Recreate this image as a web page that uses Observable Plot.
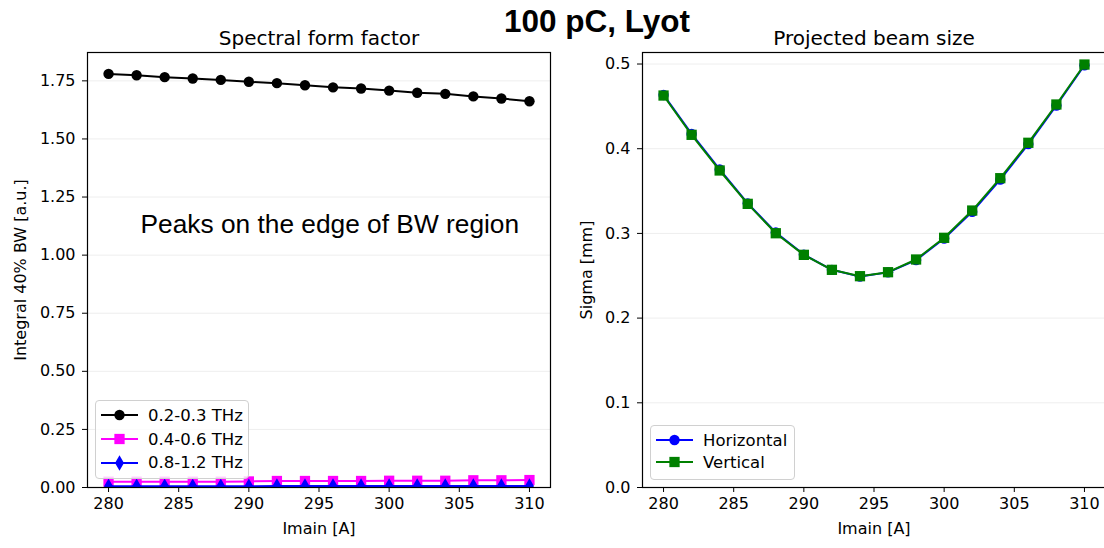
<!DOCTYPE html>
<html>
<head>
<meta charset="utf-8">
<script src="https://cdn.jsdelivr.net/npm/d3@7"></script>
<script src="https://cdn.jsdelivr.net/npm/@observablehq/plot@0.6"></script>
<style>
  html, body { margin: 0; padding: 0; background: #fff; }
  #root { position: relative; width: 1104px; height: 548px; overflow: hidden; background: #fff; }
  .panel { position: absolute; top: 0; }
  .suptitle { position: absolute; left: 0; width: 1194px; top: 3px; text-align: center;
    font-family: "Liberation Sans", Arial, sans-serif; font-weight: bold; font-size: 31.5px; color: #000; }
  .legend { position: absolute; background: rgba(255,255,255,0.8); border: 1px solid #d0d0d0;
    border-radius: 4px; box-sizing: border-box; }
  .legrow { position: absolute; left: 0; height: 20px; display: flex; align-items: center;
    font-family: "DejaVu Sans", sans-serif; font-size: 16.5px; color: #000; white-space: nowrap; }
  .legrow svg { display: block; margin-right: 10px; }
</style>
</head>
<body>
<div id="root">
  <div class="suptitle">100 pC, Lyot</div>
</div>
<script>
// ---- data ----
const imain = [280, 282, 284, 286, 288, 290, 292, 294, 296, 298, 300, 302, 304, 306, 308, 310];
const sff_02_03 = [1.780, 1.774, 1.766, 1.760, 1.754, 1.746, 1.740, 1.731, 1.722, 1.717, 1.708, 1.699, 1.694, 1.683, 1.674, 1.662];
const sff_04_06 = [0.025, 0.025, 0.025, 0.025, 0.025, 0.026, 0.028, 0.028, 0.028, 0.028, 0.029, 0.029, 0.029, 0.031, 0.031, 0.032];
const sff_08_12 = [0.005, 0.005, 0.005, 0.005, 0.005, 0.005, 0.006, 0.006, 0.006, 0.006, 0.006, 0.006, 0.006, 0.006, 0.006, 0.006];
const sigmaH = [0.4635, 0.4175, 0.3755, 0.3355, 0.3010, 0.2750, 0.2570, 0.2490, 0.2540, 0.2685, 0.2940, 0.3255, 0.3635, 0.4055, 0.4510, 0.4985];
const sigmaV = [0.4628, 0.4164, 0.3743, 0.3349, 0.3002, 0.2747, 0.2570, 0.2495, 0.2542, 0.2692, 0.2948, 0.3270, 0.3652, 0.4070, 0.4522, 0.4994];
const xTicks = [280, 285, 290, 295, 300, 305, 310];
const yTicksLeft = [0, 0.25, 0.5, 0.75, 1.0, 1.25, 1.5, 1.75];
const yTicksRight = [0, 0.1, 0.2, 0.3, 0.4, 0.5];
const leftSeries = [
  {name: "0.2-0.3 THz", values: sff_02_03, color: "black", symbol: "circle"},
  {name: "0.4-0.6 THz", values: sff_04_06, color: "magenta", symbol: "square"},
  {name: "0.8-1.2 THz", values: sff_08_12, color: "blue", symbol: "diamond"}
];
const rightSeries = [
  {name: "Horizontal", values: sigmaH, color: "blue", symbol: "circle"},
  {name: "Vertical", values: sigmaV, color: "green", symbol: "square"}
];
const titles = {left: "Spectral form factor", right: "Projected beam size"};
const annotation = "Peaks on the edge of BW region";

const rBySymbol = {circle: 5.2, square: 5.8, diamond: 4.7};
const toRows = s => imain.map((x, i) => ({x, y: s.values[i]}));

function seriesMarks(series) {
  const m = [];
  for (const s of series) {
    const rows = toRows(s);
    m.push(Plot.line(rows, {x: "x", y: "y", stroke: s.color, strokeWidth: 2, clip: true}));
    m.push(Plot.dot(rows, {x: "x", y: "y", fill: s.color, stroke: "none", symbol: () => s.symbol, r: rBySymbol[s.symbol], clip: true}));
  }
  return m;
}

const common = {
  height: 548,
  marginTop: 52,
  marginBottom: 61,
  style: {fontFamily: "DejaVu Sans, sans-serif", fontSize: "16px", color: "#000", background: "transparent", overflow: "visible"}
};

const left = Plot.plot({
  ...common,
  width: 560,
  marginLeft: 87,
  marginRight: 10,
  x: {domain: [278.5, 311.5], ticks: xTicks, tickFormat: d3.format("d"), label: "Imain [A]", labelAnchor: "center", labelOffset: 46, tickSize: 5, tickPadding: 5, labelArrow: "none"},
  y: {domain: [0, 1.872], ticks: yTicksLeft, tickFormat: d3.format(".2f"), label: "Integral 40% BW [a.u.]", labelAnchor: "center", labelOffset: 73, tickSize: 5, tickPadding: 7, labelArrow: "none"},
  marks: [
    Plot.gridY(yTicksLeft, {stroke: "#000", strokeOpacity: 0.07}),
    ...seriesMarks(leftSeries),
    Plot.text([annotation], {text: d => d, frameAnchor: "left", dx: 53, dy: -45, textAnchor: "start", fontFamily: "Liberation Sans, Arial, sans-serif", fontSize: 26.3, fill: "#000"}),
    Plot.text([titles.left], {text: d => d, frameAnchor: "top", dy: -8, lineAnchor: "bottom", fontSize: 20, fill: "#000"}),
    Plot.frame({stroke: "#000", strokeWidth: 1.2})
  ]
});
left.classList.add("panel");
left.style.left = "0px";

const right = Plot.plot({
  ...common,
  width: 545,
  marginLeft: 82,
  marginRight: 0,
  x: {domain: [278.5, 311.5], ticks: xTicks, tickFormat: d3.format("d"), label: "Imain [A]", labelAnchor: "center", labelOffset: 46, tickSize: 5, tickPadding: 5, labelArrow: "none"},
  y: {domain: [0, 0.5136], ticks: yTicksRight, tickFormat: d3.format(".1f"), label: "Sigma [mm]", labelAnchor: "center", labelOffset: 62, tickSize: 5, tickPadding: 7, labelArrow: "none"},
  marks: [
    Plot.gridY(yTicksRight, {stroke: "#000", strokeOpacity: 0.07}),
    ...seriesMarks(rightSeries),
    Plot.text([titles.right], {text: d => d, frameAnchor: "top", dy: -8, lineAnchor: "bottom", fontSize: 20, fill: "#000"}),
    Plot.frame({stroke: "#000", strokeWidth: 1.2})
  ]
});
right.classList.add("panel");
right.style.left = "560px";

const root = document.getElementById("root");
root.insertBefore(left, root.firstChild);
root.insertBefore(right, root.firstChild.nextSibling);

function symbolPath(sym, r) {
  const t = {circle: d3.symbolCircle, square: d3.symbolSquare, diamond: d3.symbolDiamond}[sym];
  return d3.symbol(t, r * r * Math.PI)();
}

function legend(series, box, rowYs) {
  const div = document.createElement("div");
  div.className = "legend";
  Object.assign(div.style, {left: box.left + "px", top: box.top + "px", width: box.width + "px", height: box.height + "px"});
  series.forEach((s, i) => {
    const row = document.createElement("div");
    row.className = "legrow";
    row.style.top = (rowYs[i] - box.top - 10 - 1) + "px";
    row.style.left = "5px";
    const svg = d3.create("svg").attr("width", 37).attr("height", 20);
    svg.append("line").attr("x1", 0).attr("x2", 37).attr("y1", 10).attr("y2", 10).attr("stroke", s.color).attr("stroke-width", 2);
    svg.append("path").attr("d", symbolPath(s.symbol, rBySymbol[s.symbol])).attr("transform", "translate(18.5,10)").attr("fill", s.color);
    row.appendChild(svg.node());
    const span = document.createElement("span");
    span.textContent = s.name;
    row.appendChild(span);
    div.appendChild(row);
  });
  root.appendChild(div);
}
legend(leftSeries, {left: 95, top: 400, width: 154, height: 79}, [415, 439.3, 462.7]);
legend(rightSeries, {left: 650, top: 425, width: 145, height: 55}, [440, 462.3]);
</script>
</body>
</html>
